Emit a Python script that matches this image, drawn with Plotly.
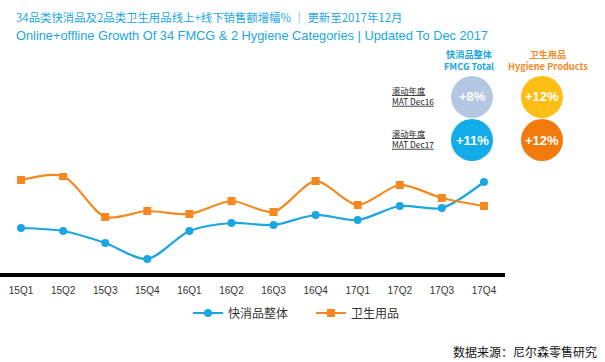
import plotly.graph_objects as go

W, H = 605, 362

quarters = ["15Q1", "15Q2", "15Q3", "15Q4", "16Q1", "16Q2", "16Q3", "16Q4",
            "17Q1", "17Q2", "17Q3", "17Q4"]
fmcg_total = [45, 42, 30, 14, 42, 50, 48, 58, 53, 67, 65, 91]
hygiene = [93, 97, 56, 62, 59, 72, 61, 92, 68, 88, 75, 67]

series_names = ["快消品整体", "卫生用品"]
kpi_rows = ["MAT Dec16", "MAT Dec17"]
kpi_fmcg = ["+8%", "+11%"]
kpi_hyg = ["+12%", "+12%"]

BLUE = "#1BA6E1"
ORANGE = "#F5881F"
FONT = "Liberation Sans, Arial, Noto Sans CJK SC, sans-serif"
CJK = "Noto Sans CJK SC, sans-serif"

def px(x):
    return x / W

def py(y):
    return 1 - y / H

fig = go.Figure()
fig.add_trace(go.Scatter(
    x=quarters, y=fmcg_total, name=series_names[0], mode="lines+markers",
    line=dict(color=BLUE, width=2.2, shape="spline", smoothing=0.8),
    marker=dict(symbol="circle", size=8, color=BLUE)))
fig.add_trace(go.Scatter(
    x=quarters, y=hygiene, name=series_names[1], mode="lines+markers",
    line=dict(color=ORANGE, width=2.2, shape="spline", smoothing=0.8),
    marker=dict(symbol="square", size=8, color=ORANGE)))

fig.update_layout(
    width=W, height=H,
    margin=dict(l=0, r=0, t=0, b=0),
    paper_bgcolor="white", plot_bgcolor="white",
    font=dict(family=FONT, color="#333"),
    showlegend=True,
    legend=dict(orientation="h", x=px(188), y=py(313), yanchor="middle",
                xanchor="left", font=dict(size=12, color="#333", family=CJK),
                itemwidth=30, tracegroupgap=0, entrywidth=78),
    xaxis=dict(domain=[0, 505 / W], range=[-0.5, 11.5], showgrid=False,
               showline=True, linecolor="black", linewidth=4,
               ticks="outside", ticklen=5, tickcolor="rgba(0,0,0,0)",
               tickfont=dict(size=10, color="#333"), automargin=False,
               zeroline=False),
    yaxis=dict(domain=[py(273), py(173)], range=[0, 100], visible=False,
               showgrid=False, zeroline=False, automargin=False),
)

def note(x, y, text, size, color, family=FONT, xanchor="center", align="center"):
    fig.add_annotation(xref="paper", yref="paper", x=px(x), y=py(y),
                       xanchor=xanchor, yanchor="middle", showarrow=False,
                       align=align, text=text, borderpad=0,
                       font=dict(size=size, color=color, family=family))

# Titles
note(15, 17, "34品类快消品及2品类卫生用品线上+线下销售额增幅% ｜ 更新至2017年12月",
     11.4, BLUE, CJK, xanchor="left", align="left")
note(15, 35.5, "Online+offline Growth Of 34 FMCG & 2 Hygiene Categories | Updated To Dec 2017",
     12.8, BLUE, xanchor="left", align="left")

# KPI headers
cx = [472, 542]
cy = [97, 140]
note(469, 60, "<b>快消品整体<br>FMCG Total</b>", 9.2, BLUE, CJK)
note(548, 60, "<b>卫生用品<br>Hygiene Products</b>", 9.2, ORANGE, CJK)

circle_colors = [["#B4C7E2", "#FFBE14"], ["#12ACEB", "#F27A0D"]]
r = 21
for i, row in enumerate(kpi_rows):
    note(391, cy[i] - 2,
         "<span style='text-decoration:underline'>滚动年度</span><br>"
         f"<span style='text-decoration:underline'>{row}</span>",
         8.3, "#222", CJK, xanchor="left", align="left")
    for j, val in enumerate([kpi_fmcg[i], kpi_hyg[i]]):
        fig.add_shape(type="circle", xref="paper", yref="paper",
                      x0=px(cx[j] - r), x1=px(cx[j] + r),
                      y0=py(cy[i] + r), y1=py(cy[i] - r),
                      fillcolor=circle_colors[i][j], line=dict(width=0))
        note(cx[j], cy[i], f"<b>{val}</b>", 13, "white")

# Source
note(598, 351, "数据来源：尼尔森零售研究", 12, "#111", CJK, xanchor="right", align="right")

fig.write_html("out.html", config={"displayModeBar": False},
               post_script="document.body.style.margin='0';")
